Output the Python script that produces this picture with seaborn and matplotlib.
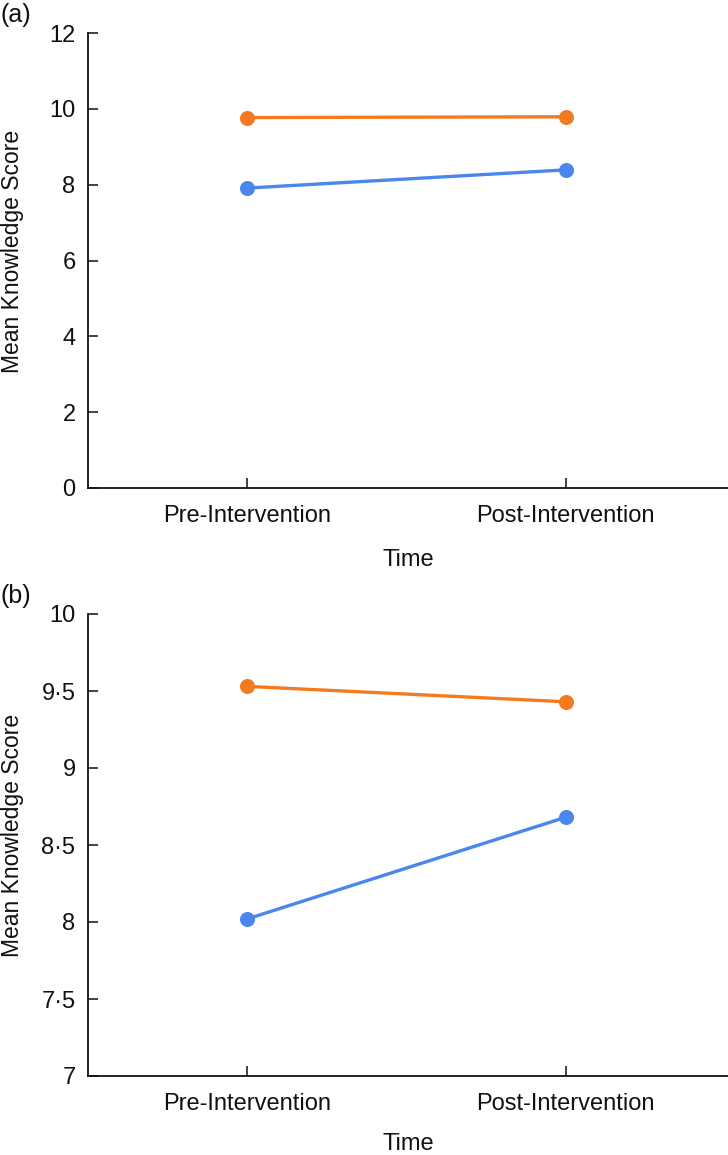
import pandas as pd
import matplotlib
matplotlib.use("Agg")
import matplotlib.pyplot as plt
import matplotlib.ticker as mticker
import seaborn as sns

sns.set_style("ticks")
plt.rcParams['font.family'] = ['Liberation Sans Narrow', 'Liberation Sans', 'DejaVu Sans']

# data
times = ["Pre-Intervention", "Post-Intervention"]
groups = ["Group 1", "Group 2"]
a_group1 = [9.77, 9.79]
a_group2 = [7.91, 8.39]
b_group1 = [9.53, 9.43]
b_group2 = [8.02, 8.68]

colors = ["#F47A20", "#4A86EC"]


def make_df(g1, g2):
    return pd.DataFrame({
        "Time": times * 2,
        "Score": g1 + g2,
        "Group": [groups[0]] * 2 + [groups[1]] * 2,
    })


fig = plt.figure(figsize=(7.28, 11.55), dpi=100)
ax1 = fig.add_axes([88 / 728, 1 - 488 / 1155, 640 / 728, 455 / 1155])
ax2 = fig.add_axes([88 / 728, 1 - 1076 / 1155, 640 / 728, 462 / 1155])

panels = [
    (ax1, make_df(a_group1, a_group2), (0, 12), [0, 2, 4, 6, 8, 10, 12], "(a)", 16),
    (ax2, make_df(b_group1, b_group2), (7, 10), [7, 7.5, 8, 8.5, 9, 9.5, 10], "(b)", 13),
]

for ax, df, ylim, yticks, tag, xpad in panels:
    sns.pointplot(data=df, x="Time", y="Score", hue="Group", order=times,
                  hue_order=groups, palette=colors, markers="o",
                  linestyles="-", markersize=9, linewidth=2.4,
                  legend=False, ax=ax)
    ax.set_xlim(-0.5, 1.51)
    ax.set_ylim(*ylim)
    ax.set_yticks(yticks)
    ax.yaxis.set_major_formatter(mticker.FuncFormatter(
        lambda v, p: ("%g" % v).replace(".", "\u00b7")))
    sns.despine(ax=ax)
    for s in ["left", "bottom"]:
        ax.spines[s].set_linewidth(1.3)
        ax.spines[s].set_color("#111111")
    ax.tick_params(axis="both", direction="in", length=7, width=1.1,
                   labelsize=17, colors="#111111", pad=9,
                   bottom=True, left=True)
    ax.tick_params(axis="x", pad=12)
    ax.set_xlabel("Time", fontsize=17, labelpad=xpad, color="#111111")
    ax.set_ylabel("Mean Knowledge Score", fontsize=16.5, color="#111111")
    ax.yaxis.set_label_coords(-0.1, 0.52)
    ax.text(-0.137, 1.04, tag, transform=ax.transAxes, fontsize=18,
            ha="left", va="center", color="#111111")

plt.savefig("out.png", dpi=100)
